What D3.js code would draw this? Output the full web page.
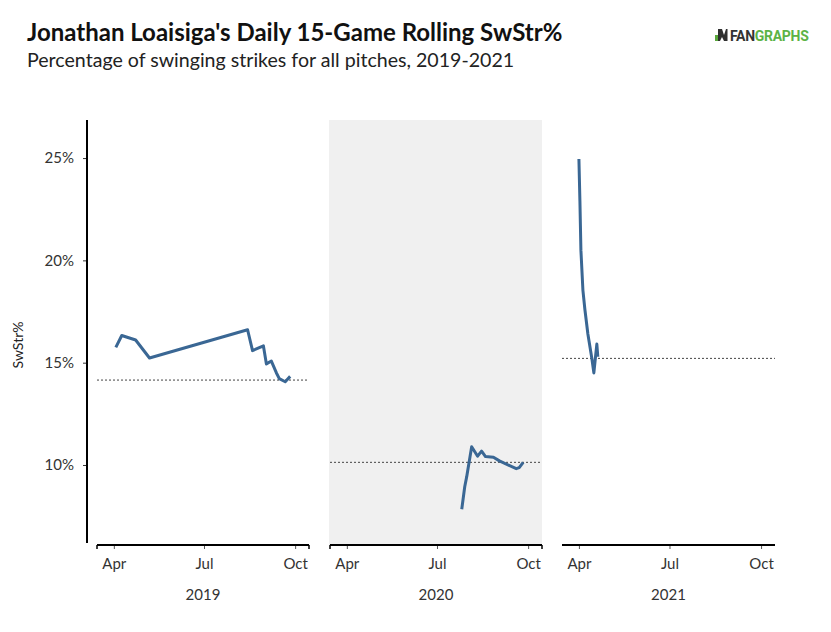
<!DOCTYPE html>
<html>
<head>
<meta charset="utf-8">
<script src="https://cdn.jsdelivr.net/npm/d3@7"></script>
<style>
  html, body { margin: 0; padding: 0; background: #fff; }
  svg { display: block; font-family: Lato, "Open Sans", sans-serif; }
</style>
</head>
<body>
<svg id="chart" width="831" height="632"></svg>
<script>
// ---------- data ----------
const years = [2019, 2020, 2021];

const dates2019 = ["2019-04-03","2019-04-09","2019-04-23","2019-05-07","2019-08-14","2019-08-19","2019-08-30","2019-09-02","2019-09-07","2019-09-12","2019-09-15","2019-09-21","2019-09-26"];
const values2019 = [15.75, 16.33, 16.11, 15.23, 16.61, 15.59, 15.82, 14.94, 15.08, 14.51, 14.22, 14.07, 14.33];

const dates2020 = ["2020-07-26","2020-07-29","2020-07-31","2020-08-05","2020-08-11","2020-08-15","2020-08-19","2020-08-27","2020-09-02","2020-09-19","2020-09-22","2020-09-26"];
const values2020 = [7.84, 8.94, 9.43, 10.89, 10.43, 10.68, 10.41, 10.38, 10.20, 9.82, 9.87, 10.13];

const dates2021 = ["2021-04-01","2021-04-02","2021-04-03","2021-04-05","2021-04-07","2021-04-10","2021-04-14","2021-04-16","2021-04-19","2021-04-20"];
const values2021 = [24.95, 22.9, 20.5, 18.55, 17.6, 16.4, 15.2, 14.5, 15.91, 15.29];

const seasonMeans = [14.15, 10.13, 15.21];
const yTicks = [10, 15, 20, 25];
const monthTicks = ["04-01", "07-01", "10-01"];
const monthLabels = ["Apr", "Jul", "Oct"];

// ---------- layout ----------
const svg = d3.select("#chart");
const parse = d3.timeParse("%Y-%m-%d");
const plotTop = 120, plotBottom = 545;
const panels = [
  { x0: 97,  x1: 309, bg: false, endTicks: true },
  { x0: 330, x1: 542, bg: true,  endTicks: true },
  { x0: 562, x1: 775, bg: false, endTicks: false }
];
const seriesDates = [dates2019, dates2020, dates2021];
const seriesValues = [values2019, values2020, values2021];

const y = d3.scaleLinear().domain([6.09, 26.86]).range([plotBottom, plotTop]);

// title
svg.append("text").attr("x", 27).attr("y", 41)
  .attr("font-size", 24).attr("font-weight", 700).attr("fill", "#111")
  .text("Jonathan Loaisiga's Daily 15-Game Rolling SwStr%");
svg.append("text").attr("x", 27).attr("y", 67)
  .attr("font-size", 19.6).attr("fill", "#222")
  .text("Percentage of swinging strikes for all pitches, 2019-2021");

// logo
const logo = svg.append("g").attr("transform", "translate(715,41)");
logo.append("rect").attr("x", 0).attr("y", -6).attr("width", 3).attr("height", 6).attr("fill", "#5aa83c");
logo.append("path").attr("d", "M3,-12 L7,-12 L9,-6 L11,-12 L12.5,-12 L12.5,0 L9,0 L7,-4 L5,0 L3,0 Z").attr("fill", "#2f2f2f");
logo.append("text").attr("x", 15).attr("y", 0)
  .attr("font-size", 14).attr("font-weight", 700).attr("font-family", "Roboto, Lato, sans-serif")
  .attr("letter-spacing", -0.3)
  .call(t => {
    t.append("tspan").attr("fill", "#333").text("FAN");
    t.append("tspan").attr("fill", "#5cb346").text("GRAPHS");
  });

// y axis label
svg.append("text")
  .attr("transform", "translate(23,345) rotate(-90)")
  .attr("text-anchor", "middle").attr("font-size", 14).attr("fill", "#222")
  .text("SwStr%");

// y axis
const yAxis = d3.axisLeft(y).tickValues(yTicks).tickSize(4).tickPadding(9)
  .tickFormat(d => d + "%");
const yg = svg.append("g").attr("transform", "translate(87,0)").call(yAxis);
yg.select(".domain").remove();
yg.selectAll(".tick line").attr("stroke", "#333");
yg.selectAll(".tick text").attr("font-size", 15).attr("fill", "#333").attr("font-family", "Lato, sans-serif");
svg.append("line").attr("x1", 87).attr("x2", 87).attr("y1", plotTop).attr("y2", plotBottom - 2)
  .attr("stroke", "#000").attr("stroke-width", 2);

const line = d3.line().x(d => d.x).y(d => d.y);

panels.forEach((p, i) => {
  const yr = years[i];
  const x = d3.scaleTime()
    .domain([parse(yr + "-03-15"), parse(yr + "-10-15")])
    .range([p.x0, p.x1]);

  if (p.bg) {
    svg.append("rect").attr("x", p.x0 - 1).attr("y", plotTop)
      .attr("width", p.x1 - p.x0 + 1).attr("height", plotBottom - plotTop)
      .attr("fill", "#f0f0f0");
  }

  // mean line
  svg.append("line")
    .attr("x1", p.x0).attr("x2", p.x1)
    .attr("y1", y(seasonMeans[i])).attr("y2", y(seasonMeans[i]))
    .attr("stroke", "#444").attr("stroke-width", 1).attr("stroke-dasharray", "2,2");

  // data line
  const pts = seriesDates[i].map((d, j) => ({ x: x(parse(d)), y: y(seriesValues[i][j]) }));
  svg.append("path").attr("d", line(pts))
    .attr("fill", "none").attr("stroke", "#3a6794").attr("stroke-width", 3)
    .attr("stroke-linejoin", "round").attr("stroke-linecap", "butt");

  // x axis
  const xAxis = d3.axisBottom(x)
    .tickValues(monthTicks.map(m => parse(yr + "-" + m)))
    .tickFormat((d, k) => monthLabels[k])
    .tickSize(4).tickPadding(9);
  const xg = svg.append("g").attr("transform", `translate(0,${plotBottom})`).call(xAxis);
  xg.select(".domain").remove();
  xg.selectAll(".tick line").attr("stroke", "#555");
  xg.selectAll(".tick text").attr("font-size", 15).attr("fill", "#333").attr("font-family", "Lato, sans-serif");
  svg.append("line").attr("x1", p.x0).attr("x2", p.x1).attr("y1", plotBottom).attr("y2", plotBottom)
    .attr("stroke", "#000").attr("stroke-width", 2);
  if (p.endTicks) {
    [p.x0, p.x1].forEach(xx => {
      svg.append("line").attr("x1", xx).attr("x2", xx).attr("y1", plotBottom).attr("y2", plotBottom + 4)
        .attr("stroke", "#000").attr("stroke-width", 1.5);
    });
  }

  // year label
  svg.append("text").attr("x", (p.x0 + p.x1) / 2).attr("y", 600)
    .attr("text-anchor", "middle").attr("font-size", 15).attr("fill", "#333")
    .text(yr);
});
</script>
</body>
</html>
